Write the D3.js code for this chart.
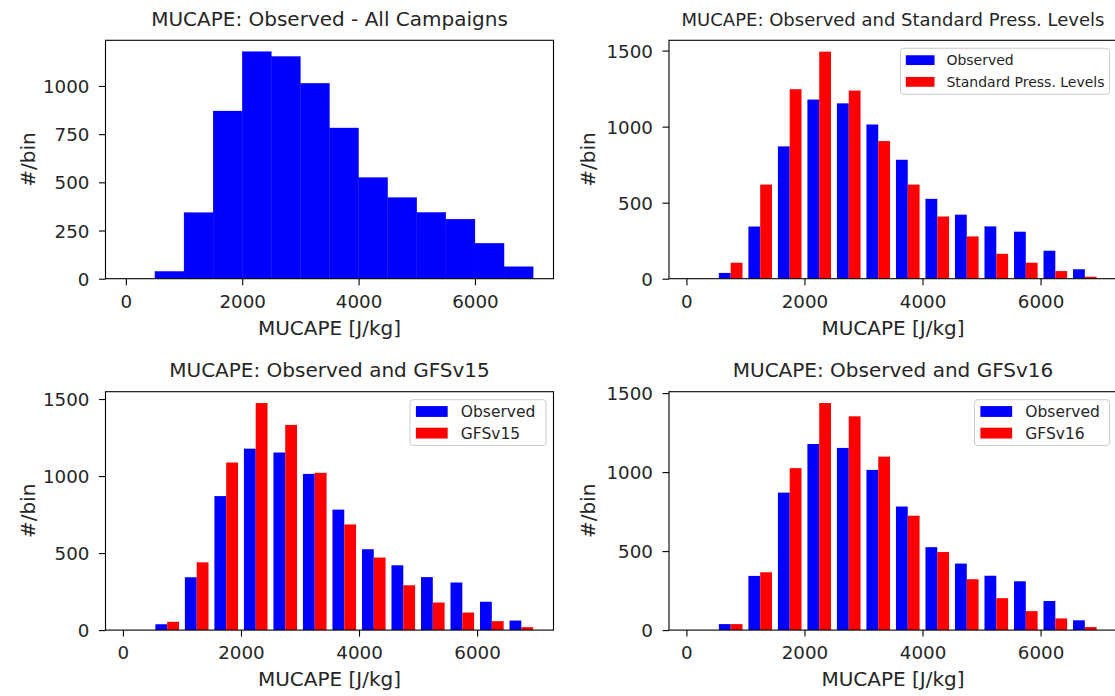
<!DOCTYPE html>
<html>
<head>
<meta charset="utf-8">
<script src="https://cdn.jsdelivr.net/npm/d3@7"></script>
<style>
  html, body { margin: 0; padding: 0; background: #fff; overflow: hidden; }
  svg { display: block; font-family: "DejaVu Sans", sans-serif; }
</style>
</head>
<body>
<svg id="chart" width="1115" height="696"></svg>
<script>
// ---------------- data ----------------
const binEdges = [0, 500, 1000, 1500, 2000, 2500, 3000, 3500, 4000, 4500, 5000, 5500, 6000, 6500, 7000];
const observed      = [0, 38, 343, 870, 1178, 1153, 1014, 782, 525, 421, 344, 309, 184, 62];
const standardPress = [0, 105, 619, 1246, 1493, 1237, 905, 619, 409, 278, 164, 105, 50, 13];
const gfsv15        = [0, 54, 440, 1088, 1474, 1332, 1021, 686, 471, 291, 179, 114, 58, 19];
const gfsv16        = [0, 38, 366, 1025, 1437, 1353, 1098, 724, 494, 322, 202, 120, 74, 19];
const xTicks = [0, 2000, 4000, 6000];
const yTicksSingle = [0, 250, 500, 750, 1000];
const yTicksPair = [0, 500, 1000, 1500];
const titles = [
  "MUCAPE: Observed - All Campaigns",
  "MUCAPE: Observed and Standard Press. Levels",
  "MUCAPE: Observed and GFSv15",
  "MUCAPE: Observed and GFSv16"
];
const seriesNames = ["Observed", "Standard Press. Levels", "GFSv15", "GFSv16"];
const xLabel = "MUCAPE [J/kg]";
const yLabel = "#/bin";

// ---------------- layout ----------------
const svg = d3.select("#chart");
const W = 448, H = 238.4;
const panels = [
  { left: 105.5, top: 40.3, title: titles[0], titleFont: 20, model: null, yTicks: yTicksSingle },
  { left: 669,   top: 40.3, title: titles[1], titleFont: 18, model: standardPress, modelName: seriesNames[1], yTicks: yTicksPair, legendFont: 14, legendW: 209, legendRow: 21.7 },
  { left: 105.5, top: 391.7, title: titles[2], titleFont: 20, model: gfsv15, modelName: seriesNames[2], yTicks: yTicksPair, legendFont: 15.5, legendW: 136, legendRow: 21.6 },
  { left: 669,   top: 391.7, title: titles[3], titleFont: 20, model: gfsv16, modelName: seriesNames[3], yTicks: yTicksPair, legendFont: 15.5, legendW: 135, legendRow: 21.6 }
];

const textColor = "#262626";

panels.forEach(p => {
  const g = svg.append("g").attr("transform", `translate(${p.left},${p.top})`);
  const nBins = binEdges.length - 1;
  const binW = binEdges[1] - binEdges[0];
  let x, yMax;
  if (!p.model) {
    const lo = binEdges[0], hi = binEdges[nBins];
    const pad = 0.05 * (hi - lo);
    x = d3.scaleLinear().domain([lo - pad, hi + pad]).range([0, W]);
    yMax = d3.max(observed) * 1.05;
  } else {
    const lo = binEdges[0] + 0.1 * binW, hi = binEdges[nBins] - 0.1 * binW;
    const pad = 0.05 * (hi - lo);
    x = d3.scaleLinear().domain([lo - pad, hi + pad]).range([0, W]);
    yMax = Math.max(d3.max(observed), d3.max(p.model)) * 1.05;
  }
  const y = d3.scaleLinear().domain([0, yMax]).range([H, 0]);

  // clip to axes
  const clipId = "clip" + Math.round(p.left) + "_" + Math.round(p.top);
  g.append("clipPath").attr("id", clipId).append("rect").attr("width", W).attr("height", H);
  const plot = g.append("g").attr("clip-path", `url(#${clipId})`);

  if (!p.model) {
    plot.selectAll("rect.obs").data(observed).enter().append("rect")
      .attr("x", (d, i) => x(binEdges[i]))
      .attr("width", (d, i) => x(binEdges[i + 1]) - x(binEdges[i]))
      .attr("y", d => y(d))
      .attr("height", d => H - y(d))
      .attr("fill", "#0000ff")
      .attr("stroke", "#0000ff").attr("stroke-width", 0.3);
  } else {
    const bw = 0.8 * binW / 2;
    const off0 = 0.1 * binW;
    [[observed, "#0000ff", 0], [p.model, "#ff0000", 1]].forEach(([vals, col, k]) => {
      plot.selectAll("rect.s" + k).data(vals).enter().append("rect")
        .attr("x", (d, i) => x(binEdges[i] + off0 + k * bw))
        .attr("width", x(bw) - x(0))
        .attr("y", d => y(d))
        .attr("height", d => H - y(d))
        .attr("fill", col);
    });
  }

  // axes
  const xAxis = d3.axisBottom(x).tickValues(xTicks).tickSize(6.5).tickPadding(9.5).tickFormat(d3.format("d"));
  const yAxis = d3.axisLeft(y).tickValues(p.yTicks).tickSize(6.5).tickPadding(9.5).tickFormat(d3.format("d"));
  const gx = g.append("g").attr("transform", `translate(0,${H})`).call(xAxis);
  const gy = g.append("g").call(yAxis);
  [gx, gy].forEach(a => {
    a.select(".domain").remove();
    a.selectAll(".tick line").attr("stroke", "#000").attr("stroke-width", 1.1);
    a.selectAll(".tick text").attr("fill", textColor).style("font-size", "18.3px").style("font-family", "DejaVu Sans");
  });
  gx.selectAll(".tick text").attr("dy", "0.71em");
  gy.selectAll(".tick text").attr("dy", "0.36em");

  // frame (spines)
  g.append("rect").attr("width", W).attr("height", H)
    .attr("fill", "none").attr("stroke", "#000").attr("stroke-width", 1.1);

  // title
  g.append("text").attr("x", W / 2).attr("y", -14.5).attr("text-anchor", "middle")
    .attr("fill", textColor).style("font-size", p.titleFont + "px").text(p.title);

  // x label
  g.append("text").attr("x", W / 2).attr("y", H + 56).attr("text-anchor", "middle")
    .attr("fill", textColor).style("font-size", "20px").text(xLabel);

  // y label
  g.append("text").attr("transform", `translate(${-(p.left > 300 ? 74 : 71)},${H / 2}) rotate(-90)`)
    .attr("text-anchor", "middle").attr("fill", textColor).style("font-size", "20px").text(yLabel);

  // legend
  if (p.model) {
    const fs = p.legendFont;
    const lw = p.legendW, row = p.legendRow;
    const lh = 2 * row + 2.6;
    const lx = W - 7.5 - lw, ly = 8;
    const lg = g.append("g").attr("transform", `translate(${lx},${ly})`);
    lg.append("rect").attr("width", lw).attr("height", lh).attr("rx", 3)
      .attr("fill", "#fff").attr("fill-opacity", 0.8).attr("stroke", "#cccccc").attr("stroke-width", 1);
    const items = [[seriesNames[0], "#0000ff"], [p.modelName, "#ff0000"]];
    const hw = fs * 2.05, hh = fs * 0.7;
    items.forEach(([name, col], i) => {
      const cy = row * 0.5 + 1 + i * row;
      lg.append("rect").attr("x", fs * 0.38).attr("y", cy - hh / 2).attr("width", hw).attr("height", hh).attr("fill", col);
      lg.append("text").attr("x", fs * 0.38 + hw + fs * 0.85).attr("y", cy).attr("dy", "0.36em")
        .attr("fill", textColor).style("font-size", fs + "px").text(name);
    });
  }
});
</script>
</body>
</html>
